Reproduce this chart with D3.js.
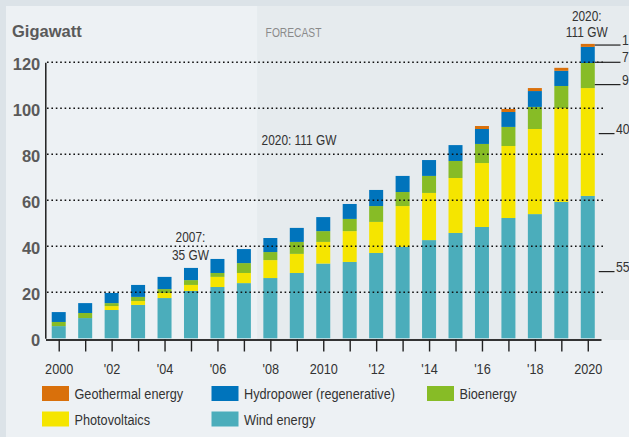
<!DOCTYPE html>
<html>
<head>
<meta charset="utf-8">
<script src="https://cdn.jsdelivr.net/npm/d3@7"></script>
<style>
  html, body { margin: 0; padding: 0; background: #dce3e8; }
  svg { display: block; }
  text { font-family: "Liberation Sans", Arial, sans-serif; }
</style>
</head>
<body>
<svg id="chart" width="629" height="437"></svg>
<script>
// ---- data ----
const years = [2000,2001,2002,2003,2004,2005,2006,2007,2008,2009,2010,2011,2012,2013,2014,2015,2016,2017,2018,2019,2020];
const wind       = [5.3, 8.8, 12.3, 14.5, 17.5, 20.6, 22.3, 24.0, 26.2, 28.4, 32.5, 33.2, 37.1, 39.7, 42.7, 45.8, 48.4, 52.3, 54.0, 59.3, 61.9];
const photovolt  = [0.0, 0.0, 1.7, 1.7, 2.2, 2.6, 4.4, 4.4, 7.8, 8.3, 9.4, 13.4, 13.5, 17.8, 20.5, 23.9, 27.8, 31.3, 37.0, 40.8, 46.9];
const bioenergy  = [1.8, 2.2, 1.3, 1.8, 1.7, 2.1, 1.7, 4.3, 3.5, 5.2, 4.7, 5.3, 6.9, 6.1, 7.4, 7.4, 8.3, 8.3, 9.6, 9.6, 10.9];
const hydropower = [4.3, 4.3, 4.4, 5.2, 5.3, 5.3, 6.1, 6.1, 6.1, 6.1, 6.1, 6.5, 7.0, 7.0, 6.9, 6.9, 6.5, 6.5, 6.9, 6.6, 7.0];
const geothermal = [0, 0, 0, 0, 0, 0, 0, 0, 0, 0, 0, 0, 0, 0, 0, 0, 1.3, 1.3, 1.3, 1.3, 1.3];
const seriesNames = ["Wind energy", "Photovoltaics", "Bioenergy", "Hydropower (regenerative)", "Geothermal energy"];
const seriesColors = ["#4badbb", "#f5e500", "#87bc26", "#0074bc", "#d9700b"];
const legendOrder = ["Geothermal energy", "Hydropower (regenerative)", "Bioenergy", "Photovoltaics", "Wind energy"];
const yTicks = [0, 20, 40, 60, 80, 100, 120];
const xLabelYears = [2000, 2002, 2004, 2006, 2008, 2010, 2012, 2014, 2016, 2018, 2020];
const forecastFrom = 2008;
const rightLabels = [{t:"1", v:127.5}, {t:"7", v:120}, {t:"9", v:110.3}, {t:"40", v:89}, {t:"55", v:29}];

// ---- layout ----
const svg = d3.select("#chart");
const W = 629, H = 437;
const plotTop = 62.3, plotBottom = 338.3;
const SQ = 0.82; // horizontal squeeze to imitate a condensed face

const x = d3.scalePoint().domain(years).range([45.5, 601]).padding(0.5);
const y = d3.scaleLinear().domain([0, 120]).range([plotBottom, plotTop]);
const barW = 14;

function ntext(parent, tx, ty, str, size, anchor, fill) {
  return parent.append("text")
    .attr("transform", `translate(${tx},${ty}) scale(${SQ},1)`)
    .attr("font-size", size).attr("text-anchor", anchor || "start")
    .attr("fill", fill || "#333").text(str);
}

// backgrounds
svg.append("rect").attr("x", 0).attr("y", 0).attr("width", W).attr("height", H).attr("fill", "#dce3e8");
svg.append("rect").attr("x", 6).attr("y", 6).attr("width", W - 6).attr("height", H - 6).attr("fill", "#edf1f4");
const fx = (x(forecastFrom - 1) + x(forecastFrom)) / 2;
svg.append("rect").attr("x", fx).attr("y", 6).attr("width", W - fx).attr("height", 334).attr("fill", "#e6ebee");

// titles
svg.append("text").attr("x", 12).attr("y", 37).attr("font-size", 16.5).attr("font-weight", "bold")
  .attr("fill", "#5a5a5a").text("Gigawatt");
ntext(svg, fx + 8.5, 37, "FORECAST", 12.5, "start", "#8a8a8a");

// stacked data
const table = years.map((yr, i) => ({
  year: yr,
  "Wind energy": wind[i],
  "Photovoltaics": photovolt[i],
  "Bioenergy": bioenergy[i],
  "Hydropower (regenerative)": hydropower[i],
  "Geothermal energy": geothermal[i]
}));
const stack = d3.stack().keys(seriesNames)(table);
const color = d3.scaleOrdinal().domain(seriesNames).range(seriesColors);

svg.append("g").selectAll("g").data(stack).join("g")
  .attr("fill", d => color(d.key))
  .selectAll("rect").data(d => d.filter(e => e[1] - e[0] > 0)).join("rect")
  .attr("x", d => x(d.data.year) - barW / 2)
  .attr("width", barW)
  .attr("y", d => y(d[1]))
  .attr("height", d => y(d[0]) - y(d[1]));

// gridlines
svg.append("g").selectAll("line").data(yTicks.filter(t => t > 0)).join("line")
  .attr("x1", 47).attr("x2", 604)
  .attr("y1", d => y(d)).attr("y2", d => y(d))
  .attr("stroke", "#111").attr("stroke-width", 1.6)
  .attr("stroke-dasharray", "1.6 2.8");

// y axis
const yAxis = svg.append("g").attr("transform", "translate(45.3,0)")
  .call(d3.axisLeft(y).tickValues(yTicks).tickSize(0).tickPadding(5));
yAxis.select(".domain").attr("stroke", "#111").attr("stroke-width", 1.4);
yAxis.selectAll("text").attr("font-size", 16.5).attr("font-weight", "bold")
  .attr("fill", "#5a5a5a").attr("dy", "0.45em")
  .style("font-family", "'Liberation Sans', Arial, sans-serif");

// x axis
const xAxis = svg.append("g").attr("transform", "translate(0,339.5)")
  .call(d3.axisBottom(x).tickSize(12).tickSizeOuter(0).tickPadding(11)
    .tickFormat(d => xLabelYears.includes(d) ? (d % 10 === 0 ? String(d) : "'" + String(d).slice(2)) : ""));
xAxis.select(".domain").attr("stroke", "#333").attr("stroke-width", 2);
xAxis.selectAll(".tick line").attr("stroke", "#222").attr("stroke-width", 1.4);
xAxis.selectAll("text").attr("font-size", 15.5).attr("fill", "#333")
  .attr("transform", `scale(${SQ},1)`)
  .style("font-family", "'Liberation Sans', Arial, sans-serif");

// annotations
ntext(svg, x(2006) - 27, 242, "2007:", 14.5, "middle");
ntext(svg, x(2006) - 27, 260, "35 GW", 14.5, "middle");
ntext(svg, 299, 144.5, "2020: 111 GW", 14.5, "middle");
ntext(svg, x(2020) - 1, 20.7, "2020:", 14.5, "middle");
ntext(svg, x(2020) - 1, 36.7, "111 GW", 14.5, "middle");

// right leader labels
const rl = svg.append("g");
rightLabels.forEach(d => {
  const tx = d.t.length > 1 ? 616 : 622;
  const x1 = x(2020) + barW / 2 + (d.t.length > 1 ? 4 : 0);
  rl.append("line").attr("x1", x1).attr("x2", tx - 1.5)
    .attr("y1", y(d.v)).attr("y2", y(d.v)).attr("stroke", "#222").attr("stroke-width", 1.2);
  ntext(rl, tx, y(d.v), d.t, 15, "start");
});

// legend
const legendPos = [
  {name: "Geothermal energy", sx: 42, row: 0},
  {name: "Hydropower (regenerative)", sx: 211.5, row: 0},
  {name: "Bioenergy", sx: 427, row: 0},
  {name: "Photovoltaics", sx: 42, row: 1},
  {name: "Wind energy", sx: 211.5, row: 1}
];
const lg = svg.append("g");
legendOrder.forEach(name => {
  const p = legendPos.find(q => q.name === name);
  const ry = 386 + p.row * 25.5;
  lg.append("rect").attr("x", p.sx).attr("y", ry).attr("width", 27).attr("height", 15).attr("fill", color(name));
  ntext(lg, p.sx + 32.5, ry + 13, name, 15.5, "start");
});
</script>
</body>
</html>
